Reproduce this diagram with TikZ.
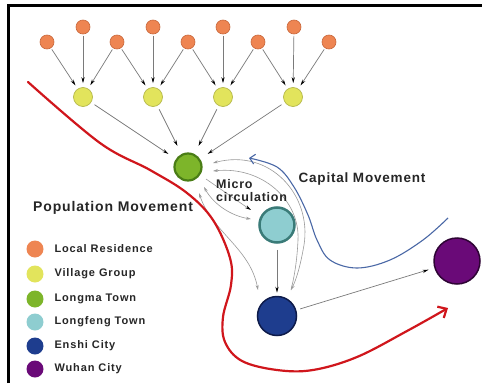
\documentclass[tikz,border=0pt]{standalone}
\usepackage{fontspec}
\setmainfont{Liberation Sans}
\usetikzlibrary{arrows.meta}
\definecolor{resfill}{HTML}{EE8552}
\definecolor{resdraw}{HTML}{C9683C}
\definecolor{vilfill}{HTML}{E2E45C}
\definecolor{vildraw}{HTML}{B5B84A}
\definecolor{lmfill}{HTML}{7DB52A}
\definecolor{lmdraw}{HTML}{4A7D16}
\definecolor{lffill}{HTML}{8ECDD0}
\definecolor{lfdraw}{HTML}{3A7B78}
\definecolor{enfill}{HTML}{1E3D8E}
\definecolor{endraw}{HTML}{0E1B4A}
\definecolor{whfill}{HTML}{6A0A78}
\definecolor{whdraw}{HTML}{2E0434}
\definecolor{txt}{HTML}{262626}
\definecolor{redline}{HTML}{D0161C}
\definecolor{blueline}{HTML}{4A68A6}
\definecolor{gline}{HTML}{7A7A7A}
\definecolor{mline}{HTML}{9A9A9A}
\tikzset{
  dot/.style={circle, inner sep=0pt, line width=1pt},
  res/.style={dot, fill=resfill, draw=resdraw, line width=0.6pt, minimum size=14pt},
  vil/.style={dot, fill=vilfill, draw=vildraw, line width=0.7pt, minimum size=19pt},
  lm/.style={dot, fill=lmfill, draw=lmdraw, line width=2.2pt, minimum size=27pt},
  lf/.style={dot, fill=lffill, draw=lfdraw, line width=2.5pt, minimum size=35pt},
  en/.style={dot, fill=enfill, draw=endraw, line width=1.5pt, minimum size=39pt},
  wh/.style={dot, fill=whfill, draw=whdraw, line width=1.5pt, minimum size=46pt},
  leg/.style={circle, inner sep=0pt, minimum size=17pt},
  legtxt/.style={anchor=west, text=txt, font=\fontsize{11pt}{12pt}\selectfont\bfseries\addfontfeature{LetterSpace=8}},
  lbl/.style={text=txt, inner sep=0pt},
  flow/.style={draw=gline, line width=0.7pt, -{Stealth[length=6pt,width=3.2pt,black]}},
  micro/.style={draw=mline, line width=0.6pt},
}
\begin{document}
\begin{tikzpicture}[x=1pt,y=-1pt]
\useasboundingbox (0,0) rectangle (482,383);
\fill[white] (0,0) rectangle (482,383);
% frame
\draw[line width=3pt] (8,383) -- (8,5.5) -- (482,5.5);

% local residences
\foreach \n/\x/\y in {o1/47/42,o2/83/27,o3/117/42,o4/153/27,o5/188/42,o6/223/27,o7/258/42,o8/294/27,o9/329/42}
  \node[res] (\n) at (\x,\y) {};
% village groups
\foreach \n/\x in {v1/83,v2/153,v3/223,v4/293}
  \node[vil] (\n) at (\x,97) {};
% towns and cities
\node[lm] (lm) at (188,167) {};
\node[lf] (lf) at (277,225) {};
\node[en] (en) at (277,316) {};
\node[wh] (wh) at (457,261) {};

% residences -> villages
\foreach \a/\b in {o1/v1,o2/v1,o3/v1,o3/v2,o4/v2,o5/v2,o5/v3,o6/v3,o7/v3,o7/v4,o8/v4,o9/v4}
  \draw[flow, shorten <=1.5pt, shorten >=4pt] (\a) -- (\b);
% villages -> Longma
\foreach \a in {v1,v2,v3,v4}
  \draw[flow, shorten <=4pt, shorten >=9pt] (\a) -- (lm);
% Longfeng -> Enshi, Enshi -> Wuhan
\draw[flow, shorten <=6pt, shorten >=3pt] (lf) -- (en);
\draw[flow, shorten <=4pt, shorten >=6pt] (en) -- (wh);

% micro circulation
\coordinate (m1) at (213,163);
\coordinate (m2) at (213,171);
\coordinate (m3) at (206,179);
\coordinate (m4) at (204,187);
\coordinate (m5) at (199,193);
\coordinate (e1) at (291,290);
\coordinate (e2) at (258,290);
\coordinate (f1) at (251,210);
\coordinate (f2) at (251,219);
\draw[micro, {Stealth[length=5pt,width=3pt,mline]}-{Stealth[length=5pt,width=3pt,mline]}]
  (m1) .. controls (270,148) and (312,195) .. (304,245) .. controls (300,268) and (296,280) .. (e1);
\draw[micro, {Stealth[length=5pt,width=3pt,mline]}-]
  (m2) .. controls (262,166) and (300,200) .. (298,240) .. controls (297,262) and (294,278) .. (e1);
\draw[micro, -{Stealth[length=6pt,width=3.2pt,black]}]
  (m3) .. controls (222,190) and (236,200) .. (f1);
\draw[micro, {Stealth[length=5pt,width=3pt,mline]}-{Stealth[length=5pt,width=3pt,mline]}]
  (m4) .. controls (214,205) and (232,216) .. (f2);
\draw[micro, {Stealth[length=5pt,width=3pt,mline]}-{Stealth[length=5pt,width=3pt,mline]}]
  (m5) .. controls (212,232) and (250,248) .. (e2);

% population movement (red)
\draw[redline, line width=2.2pt, line cap=round, -{Straight Barb[length=7pt,width=13pt,line width=2.2pt]}]
  plot[smooth, tension=0.6] coordinates {(28,82) (100,143) (150,170) (187,193) (213,220) (230,258) (231,285) (223,317) (225,342) (242,361) (277,370) (313,370) (357,357) (407,331) (448,308)};
% capital movement (blue)
\draw[blueline, line width=1.1pt, -{Straight Barb[length=5pt,width=10pt,line width=1.1pt]}]
  plot[smooth, tension=0.6] coordinates {(448,218) (423,240) (390,260) (357,268) (330,260) (317,240) (308,215) (294,187) (277,167) (249,158)};

% labels
\node[lbl, anchor=west, font=\fontsize{14pt}{15pt}\selectfont\bfseries\addfontfeature{LetterSpace=6}] (pm) at (33,208) {Population Movement};
\node[lbl, font=\fontsize{13.5pt}{15pt}\selectfont\bfseries\addfontfeature{LetterSpace=6}] (cm) at (362,179) {Capital Movement};
\node[lbl, anchor=west, align=left, font=\fontsize{12.5pt}{13pt}\selectfont\bfseries\addfontfeature{LetterSpace=6}] (mc) at (216,191) {Micro\\circulation};

% legend
\foreach \n/\y/\c/\t in {l1/249/resfill/Local Residence,l2/274/vilfill/Village Group,l3/299/lmfill/Longma Town,l4/322/lffill/Longfeng Town,l5/346/enfill/Enshi City,l6/369/whfill/Wuhan City}{
  \node[leg, fill=\c] (\n) at (35,\y) {};
  \node[legtxt] (\n t) at (51,\y) {\t};
}
\end{tikzpicture}
\end{document}
